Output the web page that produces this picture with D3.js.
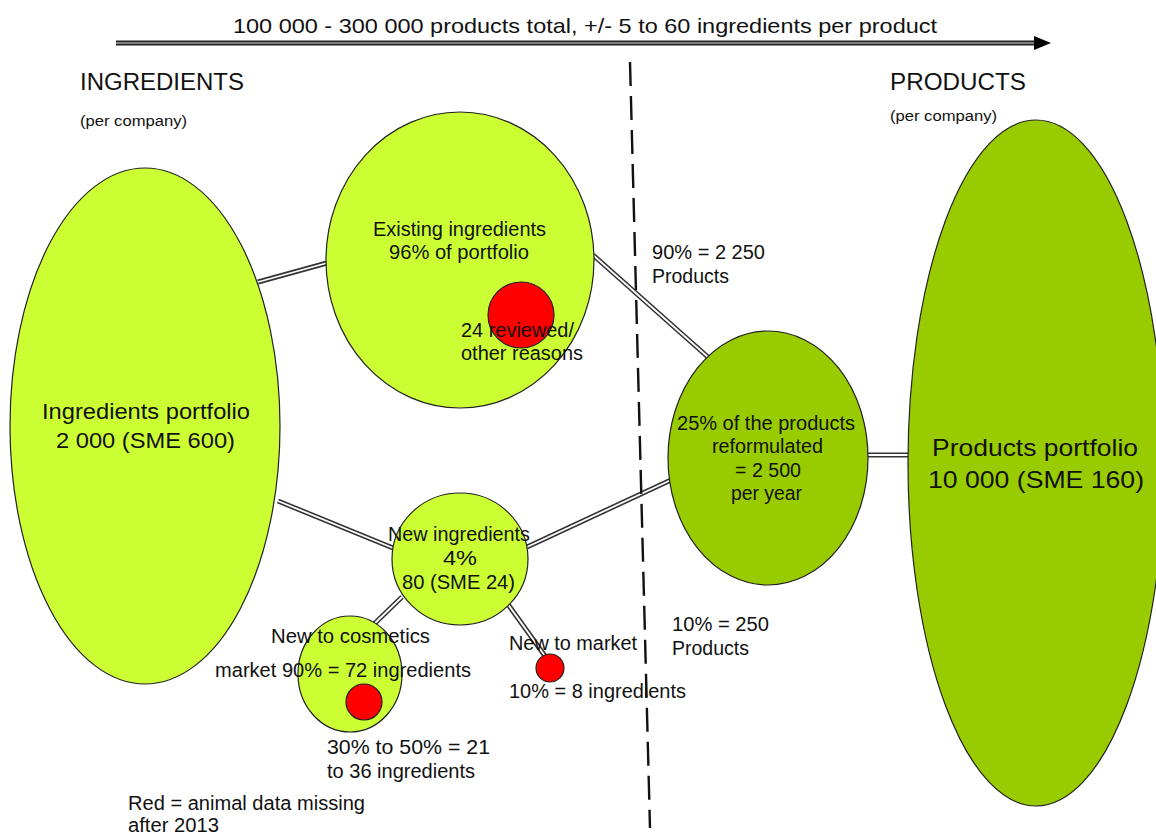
<!DOCTYPE html>
<html><head><meta charset="utf-8">
<script src="https://cdn.jsdelivr.net/npm/d3@7"></script>
<style>html,body{margin:0;padding:0;background:#fff;}svg{display:block;}</style>
</head><body>
<svg id="c" width="1156" height="835"></svg>
<script>
// ---- data ----
const nodeNames = ["portfolio","existing","newIng","reform","products","cosm","redExisting","redCosm","redMarket"];
const nodeKinds = ["light","light","light","dark","dark","light","red","red","red"];
const links = [["portfolio","existing"],["portfolio","newIng"],["existing","reform"],["newIng","reform"],["newIng","cosm"],["newIng","redMarket"],["reform","products"]];
const titleText = "100 000 - 300 000 products total, +/- 5 to 60 ingredients per product";
const headerTexts = ["INGREDIENTS","(per company)","PRODUCTS","(per company)"];
const portfolioLabel = ["Ingredients portfolio","2 000 (SME 600)"];
const existingLabel = ["Existing ingredients","96% of portfolio"];
const reviewedLabel = ["24 reviewed/","other reasons"];
const share90Label = ["90% = 2 250","Products"];
const reformLabel = ["25% of the products","reformulated","= 2 500","per year"];
const productsLabel = ["Products portfolio","10 000 (SME 160)"];
const newIngLabel = ["New ingredients","4%","80 (SME 24)"];
const cosmLabel = ["New to cosmetics","market 90% = 72 ingredients"];
const marketLabel = ["New to market","10% = 8 ingredients"];
const share10Label = ["10% = 250","Products"];
const cosmRedLabel = ["30% to 50% = 21","to 36 ingredients"];
const legendLabel = ["Red = animal data missing","after 2013"];

// ---- layout (separate from data) ----
const geo = {
  portfolio:[145,426,135,258], existing:[460,260,134,148], newIng:[460,559,68,66],
  reform:[768,458,100,127], products:[1036,463,128,343], cosm:[350,674,52,58],
  redExisting:[521,315,33,33], redCosm:[364,702,18,18], redMarket:[550,668,14,14]
};
const linkEnds = {
  "portfolio-existing":[[258,282],[327,263]],
  "portfolio-newIng":[[278,501],[393,548]],
  "existing-reform":[[593,255],[709,358]],
  "newIng-reform":[[527,547],[671,480]],
  "newIng-cosm":[[402,597],[372,626]],
  "newIng-redMarket":[[507,603],[545,656]],
  "reform-products":[[867,455],[909,455]]
};
const fills = {light:"#ccff33", dark:"#99cc00", red:"#ff0000"};

const svg = d3.select("#c");
const FONT = "'Liberation Sans', Arial, sans-serif";

// top arrow
const ax = d3.scaleLinear().domain([0,1]).range([116,1036]);
svg.append("line").attr("x1",ax(0)).attr("x2",ax(1)).attr("y1",43).attr("y2",43).attr("stroke","#222").attr("stroke-width",5);
svg.append("line").attr("x1",ax(0)).attr("x2",ax(1)).attr("y1",43).attr("y2",43).attr("stroke","#ddd").attr("stroke-width",1.2);
svg.append("path").attr("d",d3.line()([[1034,36],[1051,43],[1034,50]])+"Z").attr("fill","#000");

// links (double lines)
const linkG = svg.append("g");
links.forEach(([a,b])=>{
  const e = linkEnds[a+"-"+b];
  linkG.append("line").attr("x1",e[0][0]).attr("y1",e[0][1]).attr("x2",e[1][0]).attr("y2",e[1][1])
    .attr("stroke","#333").attr("stroke-width",5);
  linkG.append("line").attr("x1",e[0][0]).attr("y1",e[0][1]).attr("x2",e[1][0]).attr("y2",e[1][1])
    .attr("stroke","#fff").attr("stroke-width",1.8);
});

// ellipses
const order = ["portfolio","existing","newIng","reform","products","cosm","redExisting","redCosm","redMarket"];
svg.append("g").selectAll("ellipse").data(order).join("ellipse")
  .attr("cx",d=>geo[d][0]).attr("cy",d=>geo[d][1]).attr("rx",d=>geo[d][2]).attr("ry",d=>geo[d][3])
  .attr("fill",d=>fills[nodeKinds[nodeNames.indexOf(d)]])
  .attr("stroke","#222").attr("stroke-width",1.2);

// dashed divider
svg.append("line").attr("x1",630).attr("y1",62).attr("x2",650).attr("y2",828)
  .attr("stroke","#111").attr("stroke-width",2.4).attr("stroke-dasharray","24,10");

// text helper: x = start, w = target width
function txt(str,x,y,size,w){
  const t = svg.append("text").attr("x",x).attr("y",y).attr("font-family",FONT)
    .attr("font-size",size).attr("fill","#111").text(str);
  if(w){ t.attr("textLength",w).attr("lengthAdjust","spacingAndGlyphs"); }
  return t;
}
const B = 20;
txt(titleText,233,33,21,704);
txt(headerTexts[0],80,90,23,164);
txt(headerTexts[1],80,126,14,107);
txt(headerTexts[2],890,90,23,136);
txt(headerTexts[3],890,121,14,107);
txt(portfolioLabel[0],42,419,22,208);
txt(portfolioLabel[1],56,448,22,179);
txt(existingLabel[0],373,236,B,173);
txt(existingLabel[1],389,259,B,140);
txt(reviewedLabel[0],461,337,B,113);
txt(reviewedLabel[1],461,360,B,122);
txt(share90Label[0],652,259,B,113);
txt(share90Label[1],652,283,B,77);
txt(reformLabel[0],677,430,B,178);
txt(reformLabel[1],712,453,B,111);
txt(reformLabel[2],735,477,B,66);
txt(reformLabel[3],731,500,B,71);
txt(productsLabel[0],932,456,24,206);
txt(productsLabel[1],928,488,24,216);
txt(newIngLabel[0],388,541,B,142);
txt(newIngLabel[1],443,565,B,34);
txt(newIngLabel[2],402,589,B,113);
txt(cosmLabel[0],271,643,B,159);
txt(cosmLabel[1],215,677,B,256);
txt(marketLabel[0],509,650,B,128);
txt(marketLabel[1],509,698,B,177);
txt(share10Label[0],672,631,B,97);
txt(share10Label[1],672,655,B,77);
txt(cosmRedLabel[0],327,754,B,163);
txt(cosmRedLabel[1],327,778,B,148);
txt(legendLabel[0],128,810,B,237);
txt(legendLabel[1],128,832,B,91);
</script>
</body></html>
